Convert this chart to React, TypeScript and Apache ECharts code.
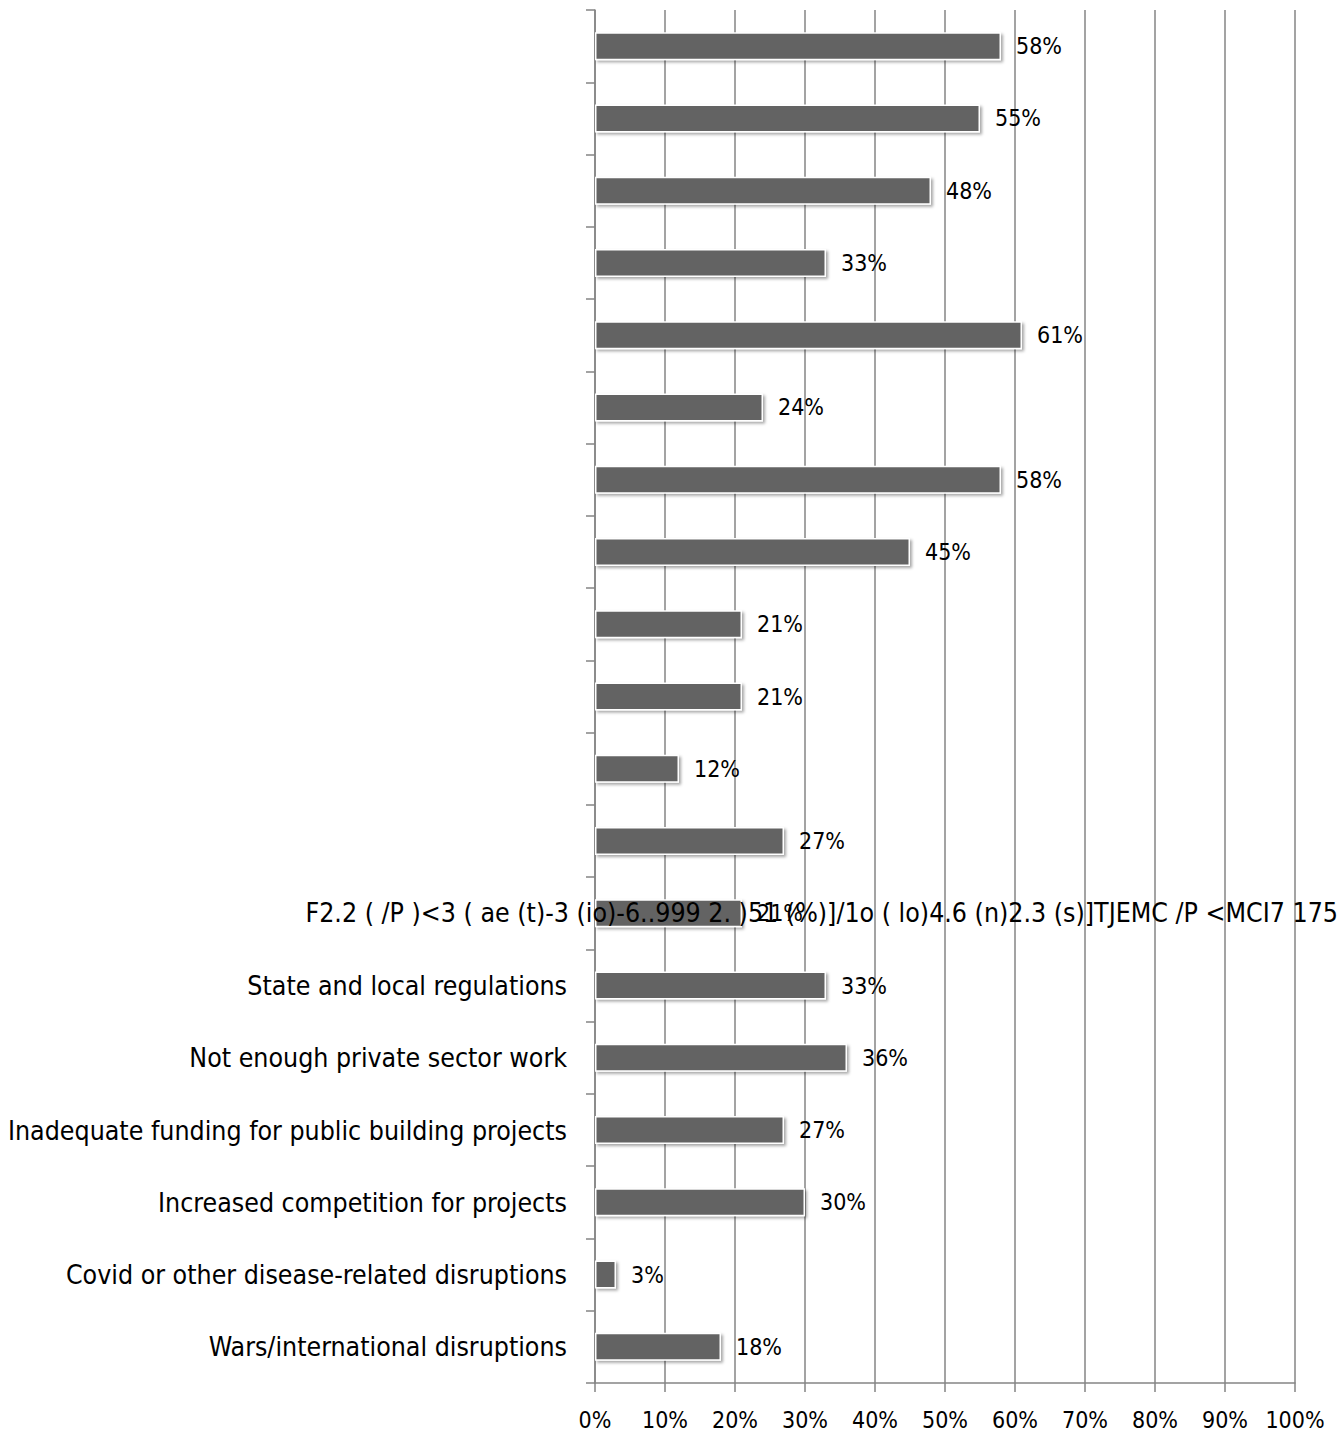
import React, { useEffect, useRef } from "react";
import * as echarts from "echarts";

const categories: string[] = [
  "", "", "", "", "", "", "", "", "", "", "", "", "",
  "State and local regulations",
  "Not enough private sector work",
  "Inadequate funding for public building projects",
  "Increased competition for projects",
  "Covid or other disease-related disruptions",
  "Wars/international disruptions",
];

const values: number[] = [58, 55, 48, 33, 61, 24, 58, 45, 21, 21, 12, 27, 21, 33, 36, 27, 30, 3, 18];

const garbledText = "F2.2 ( /P )<3 ( ae (t)-3 (io)-6..999 2. )51 (%)]/1o ( lo)4.6 (n)2.3 (s)]TJEMC /P <MCI7 175";

const FONT = "'Liberation Sans Narrow', 'DejaVu Sans Condensed', 'Liberation Sans', sans-serif";

export default function App() {
  const ref = useRef<HTMLDivElement>(null);
  useEffect(() => {
    if (!ref.current) return;
    const chart = echarts.init(ref.current, undefined, { renderer: "svg" });
    chart.setOption({
      animation: false,
      backgroundColor: "#ffffff",
      grid: {
        left: 595,
        right: 47,
        top: 10,
        bottom: 51,
        containLabel: false,
        outerBoundsMode: "none",
      },
      xAxis: {
        type: "value",
        min: 0,
        max: 100,
        interval: 10,
        axisLine: { show: true, lineStyle: { color: "#858585", width: 1.5 } },
        axisTick: { show: true, length: 9, lineStyle: { color: "#858585", width: 1.5 } },
        splitLine: { show: true, lineStyle: { color: "#858585", width: 1.5 } },
        axisLabel: {
          formatter: "{value}%",
          color: "#000000",
          fontSize: 23,
          fontFamily: FONT,
          margin: 25,
        },
      },
      yAxis: {
        type: "category",
        inverse: true,
        data: categories,
        axisLine: { show: true, lineStyle: { color: "#858585", width: 1.5 } },
        axisTick: { show: true, length: 9, lineStyle: { color: "#858585", width: 1.5 } },
        axisLabel: {
          color: "#000000",
          fontSize: 26.5,
          fontFamily: FONT,
          margin: 28,
        },
      },
      series: [
        {
          type: "bar",
          data: values,
          barWidth: 28,
          itemStyle: {
            color: "#636363",
            borderColor: "#ffffff",
            borderWidth: 1.5,
            shadowColor: "rgba(0,0,0,0.35)",
            shadowBlur: 3,
            shadowOffsetX: 2,
            shadowOffsetY: 2,
          },
          label: {
            show: true,
            position: "right",
            distance: 15,
            formatter: "{c}%",
            color: "#000000",
            fontSize: 23,
            fontFamily: FONT,
          },
        },
      ],
      graphic: [
        {
          type: "text",
          right: 4,
          top: 899,
          z: 100,
          style: {
            text: garbledText,
            fill: "#000000",
            fontSize: 26.5,
            fontFamily: FONT,
          },
        },
      ],
    });
    return () => chart.dispose();
  }, []);
  return (
    <div
      ref={ref}
      style={{ position: "fixed", left: 0, top: 0, width: 1342, height: 1434 }}
    />
  );
}
